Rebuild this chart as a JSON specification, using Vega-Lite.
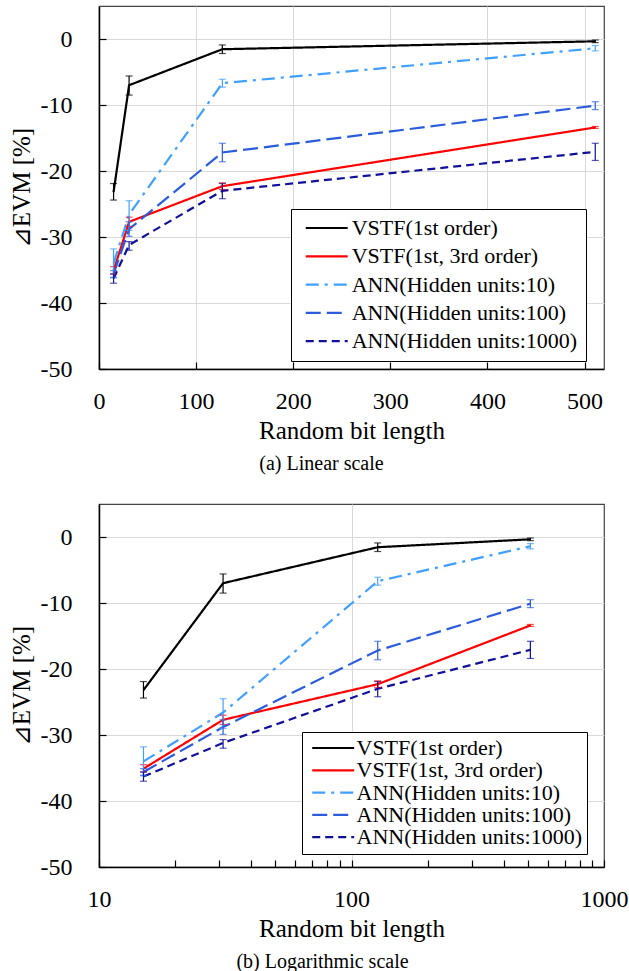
{
  "$schema": "https://vega.github.io/schema/vega-lite/v6.json",
  "padding": {"left": 8, "top": 5, "right": 5, "bottom": 5},
  "background": "white",
  "bounds": "flush",
  "spacing": 135,
  "datasets": {
    "evm": [
      {"series": "VSTF(1st order)", "x": 15, "y": -23.2, "lo": -24.4, "hi": -21.9},
      {"series": "VSTF(1st order)", "x": 31, "y": -7.0, "lo": -8.5, "hi": -5.6},
      {"series": "VSTF(1st order)", "x": 127, "y": -1.55, "lo": -2.2, "hi": -0.9},
      {"series": "VSTF(1st order)", "x": 511, "y": -0.35, "lo": -0.55, "hi": -0.15},
      {"series": "VSTF(1st, 3rd order)", "x": 15, "y": -35.1, "lo": -35.6, "hi": -34.5},
      {"series": "VSTF(1st, 3rd order)", "x": 31, "y": -27.7, "lo": -28.4, "hi": -27.0},
      {"series": "VSTF(1st, 3rd order)", "x": 127, "y": -22.3, "lo": -22.8, "hi": -21.8},
      {"series": "VSTF(1st, 3rd order)", "x": 511, "y": -13.4, "lo": -13.55, "hi": -13.25},
      {"series": "ANN(Hidden units:10)", "x": 15, "y": -34.0, "lo": -36.2, "hi": -31.8},
      {"series": "ANN(Hidden units:10)", "x": 31, "y": -26.6, "lo": -29.0, "hi": -24.5},
      {"series": "ANN(Hidden units:10)", "x": 127, "y": -6.7, "lo": -7.3, "hi": -6.1},
      {"series": "ANN(Hidden units:10)", "x": 511, "y": -1.4, "lo": -1.8, "hi": -1.0},
      {"series": "ANN(Hidden units:100)", "x": 15, "y": -35.6, "lo": -36.1, "hi": -35.1},
      {"series": "ANN(Hidden units:100)", "x": 31, "y": -28.8, "lo": -29.9, "hi": -27.7},
      {"series": "ANN(Hidden units:100)", "x": 127, "y": -17.2, "lo": -18.6, "hi": -15.8},
      {"series": "ANN(Hidden units:100)", "x": 511, "y": -10.1, "lo": -10.7, "hi": -9.5},
      {"series": "ANN(Hidden units:1000)", "x": 15, "y": -36.3, "lo": -37.0, "hi": -35.6},
      {"series": "ANN(Hidden units:1000)", "x": 31, "y": -31.2, "lo": -32.0, "hi": -30.7},
      {"series": "ANN(Hidden units:1000)", "x": 127, "y": -23.0, "lo": -24.2, "hi": -21.9},
      {"series": "ANN(Hidden units:1000)", "x": 511, "y": -17.1, "lo": -18.4, "hi": -15.8}
    ]
  },
  "config": {
    "font": "Liberation Serif",
    "view": {"stroke": "#444", "strokeWidth": 1.2},
    "style": {
      "guide-label": {"font": "Liberation Serif", "fill": "black"},
      "guide-title": {"font": "Liberation Serif", "fill": "black", "fontWeight": "normal"}
    },
    "axis": {
      "labelFont": "Liberation Serif", "labelFontSize": 24, "labelColor": "black",
      "titleFont": "Liberation Serif", "titleFontSize": 25, "titleFontWeight": "normal", "titleColor": "black",
      "domainColor": "black", "domainWidth": 1.5,
      "tickColor": "black", "tickWidth": 1.2, "tickSize": -7,
      "gridColor": "#d9d9d9", "gridWidth": 1
    },
    "axisX": {"labelPadding": 27, "titlePadding": 5, "labelFlush": false},
    "axisY": {"labelPadding": 34, "titlePadding": 6},
    "legend": {
      "labelFont": "Liberation Serif", "labelFontSize": 22, "labelColor": "black",
      "strokeColor": "black", "fillColor": "white",
      "symbolType": "M-4,0H4", "symbolSize": 110, "symbolStrokeWidth": 2.2,
      "labelLimit": 400
    }
  },
  "vconcat": [
    {
      "width": 505,
      "height": 363,
      "data": {"name": "evm"},
      "title": {"text": "(a) Linear scale", "orient": "bottom", "fontSize": 20, "fontWeight": "normal", "font": "Liberation Serif", "color": "black", "offset": 11, "dx": -30, "anchor": "middle", "frame": "group"},
      "layer": [
        {
          "mark": {"type": "line", "strokeWidth": 2.2},
          "encoding": {
            "x": {"field": "x", "type": "quantitative", "scale": {"domain": [0, 520], "nice": false},
                  "axis": {"title": "Random bit length", "values": [0, 100, 200, 300, 400, 500], "grid": true, "labelFont": "Liberation Serif", "titleFont": "Liberation Serif"}},
            "y": {"field": "y", "type": "quantitative", "scale": {"domain": [-50, 5], "nice": false},
                  "axis": {"title": "⊿EVM [%]", "values": [-50, -40, -30, -20, -10, 0], "labelExpr": "'' + datum.value", "grid": true, "labelFont": "Liberation Serif", "titleFont": "Liberation Serif"}},
            "color": {"field": "series", "type": "nominal",
                      "scale": {"domain": ["VSTF(1st order)", "VSTF(1st, 3rd order)", "ANN(Hidden units:10)", "ANN(Hidden units:100)", "ANN(Hidden units:1000)"],
                                "range": ["#000000", "#ff0000", "#3fa0ff", "#2a5cdc", "#10109a"]},
                      "legend": {"title": null, "orient": "none", "legendX": 192, "legendY": 203, "padding": 8, "symbolOffset": 16.7, "labelOffset": 14, "rowPadding": 6.3, "labelFont": "Liberation Serif"}},
            "strokeDash": {"field": "series", "type": "nominal",
                      "scale": {"domain": ["VSTF(1st order)", "VSTF(1st, 3rd order)", "ANN(Hidden units:10)", "ANN(Hidden units:100)", "ANN(Hidden units:1000)"],
                                "range": [[1, 0], [1, 0], [13, 6, 3, 6], [15, 6], [8, 5]]},
                      "legend": {"title": null, "orient": "none", "legendX": 192, "legendY": 203, "padding": 8, "symbolOffset": 16.7, "labelOffset": 14, "rowPadding": 6.3, "labelFont": "Liberation Serif"}}
          }
        },
        {
          "mark": {"type": "errorbar", "ticks": {"size": 7}, "thickness": 1.2},
          "encoding": {
            "x": {"field": "x", "type": "quantitative", "title": "Random bit length"},
            "y": {"field": "lo", "type": "quantitative", "title": "⊿EVM [%]"},
            "y2": {"field": "hi"},
            "color": {"field": "series", "type": "nominal", "legend": null}
          }
        }
      ]
    },
    {
      "width": 505,
      "height": 363,
      "data": {"name": "evm"},
      "title": {"text": "(b) Logarithmic scale", "orient": "bottom", "fontSize": 20, "fontWeight": "normal", "font": "Liberation Serif", "color": "black", "offset": 11, "dx": -29, "anchor": "middle", "frame": "group"},
      "layer": [
        {
          "mark": {"type": "line", "strokeWidth": 2.2},
          "encoding": {
            "x": {"field": "x", "type": "quantitative", "scale": {"type": "log", "domain": [10, 1000], "nice": false},
                  "axis": {"title": "Random bit length",
                           "values": [10, 20, 30, 40, 50, 60, 70, 80, 90, 100, 200, 300, 400, 500, 600, 700, 800, 900, 1000],
                           "labelExpr": "datum.value == 10 ? '10' : datum.value == 100 ? '100' : datum.value == 1000 ? '1000' : ''",
                           "grid": true, "labelFont": "Liberation Serif", "titleFont": "Liberation Serif",
                           "gridOpacity": {"condition": {"test": "datum.value == 100", "value": 1}, "value": 0}}},
            "y": {"field": "y", "type": "quantitative", "scale": {"domain": [-50, 5], "nice": false},
                  "axis": {"title": "⊿EVM [%]", "values": [-50, -40, -30, -20, -10, 0], "labelExpr": "'' + datum.value", "grid": true, "labelFont": "Liberation Serif", "titleFont": "Liberation Serif"}},
            "color": {"field": "series", "type": "nominal",
                      "scale": {"domain": ["VSTF(1st order)", "VSTF(1st, 3rd order)", "ANN(Hidden units:10)", "ANN(Hidden units:100)", "ANN(Hidden units:1000)"],
                                "range": ["#000000", "#ff0000", "#3fa0ff", "#2a5cdc", "#10109a"]},
                      "legend": {"title": null, "orient": "none", "legendX": 203, "legendY": 228, "padding": 5, "symbolOffset": 15.2, "labelOffset": 12.3, "rowPadding": 0.3, "labelFont": "Liberation Serif"}},
            "strokeDash": {"field": "series", "type": "nominal",
                      "scale": {"domain": ["VSTF(1st order)", "VSTF(1st, 3rd order)", "ANN(Hidden units:10)", "ANN(Hidden units:100)", "ANN(Hidden units:1000)"],
                                "range": [[1, 0], [1, 0], [13, 6, 3, 6], [15, 6], [8, 5]]},
                      "legend": {"title": null, "orient": "none", "legendX": 203, "legendY": 228, "padding": 5, "symbolOffset": 15.2, "labelOffset": 12.3, "rowPadding": 0.3, "labelFont": "Liberation Serif"}}
          }
        },
        {
          "mark": {"type": "errorbar", "ticks": {"size": 7}, "thickness": 1.2},
          "encoding": {
            "x": {"field": "x", "type": "quantitative", "title": "Random bit length"},
            "y": {"field": "lo", "type": "quantitative", "title": "⊿EVM [%]"},
            "y2": {"field": "hi"},
            "color": {"field": "series", "type": "nominal", "legend": null}
          }
        }
      ]
    }
  ],
  "resolve": {"scale": {"x": "independent", "color": "independent", "strokeDash": "independent"}, "legend": {"color": "independent", "strokeDash": "independent"}}
}
